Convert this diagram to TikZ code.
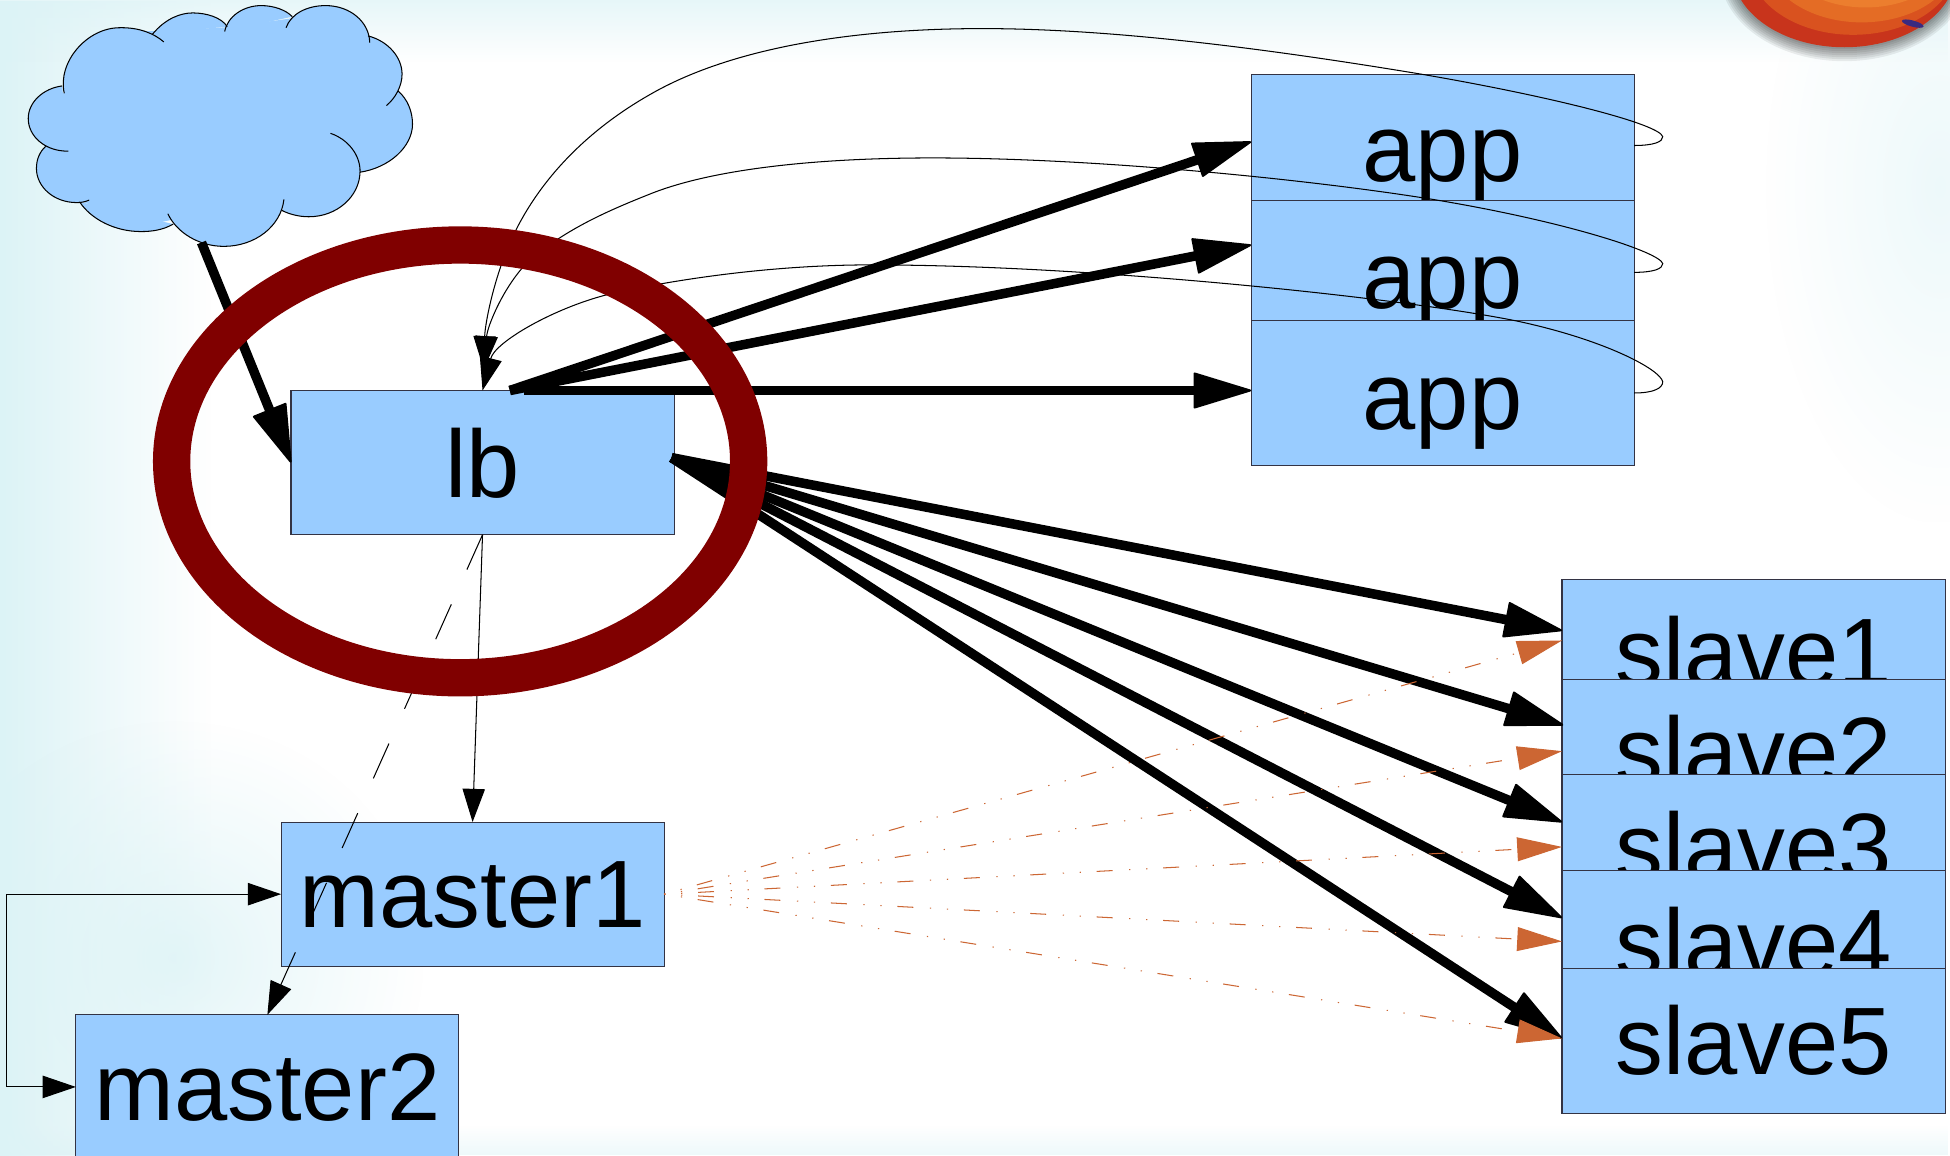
\documentclass[tikz,border=0pt]{standalone}
\usepackage{fontspec}
\setmainfont{Liberation Sans}
\usetikzlibrary{arrows.meta,fadings,calc}
\definecolor{boxblue}{HTML}{99CCFF}
\definecolor{boxline}{HTML}{333344}
\definecolor{ringred}{HTML}{800000}
\definecolor{orangeline}{HTML}{CC6633}
\definecolor{paleblue}{HTML}{DCF3F6}
\definecolor{ballA}{HTML}{C8341C}
\definecolor{ballB}{HTML}{D9521F}
\definecolor{ballC}{HTML}{E46C25}
\definecolor{ballD}{HTML}{EC7E2E}
\definecolor{ballE}{HTML}{EE8B3A}
\definecolor{ballspot}{HTML}{3A2A80}
\tikzfading[name=fadedown,top color=transparent!0,bottom color=transparent!100]
\tikzfading[name=fadeup,top color=transparent!100,bottom color=transparent!0]
\tikzfading[name=faderight,left color=transparent!0,right color=transparent!100]
\tikzfading[name=fadeball,inner color=transparent!0,outer color=transparent!100]
\tikzset{
  boxnode/.style={draw=boxline,fill=boxblue,line width=.5pt,inner sep=0pt,outer sep=0pt,
    anchor=north west,minimum width=184.8pt,font=\fontsize{46.2}{46.2}\selectfont,text=black},
  thinarrow/.style={draw=black,line width=.5pt,-{Triangle[length=16pt,width=10.8pt]}},
  thickarrow/.style={draw=black,line width=4.6pt,-{Triangle[length=29pt,width=17.5pt,round,line width=1pt]}},
  orangearrow/.style={draw=orangeline,line width=.5pt,
    dash pattern=on .6pt off 7.6pt on .6pt off 7.6pt on 7.7pt off 8pt,
    -{Triangle[length=21.6pt,width=11.5pt]}},
  dashedarrow/.style={thinarrow,dash pattern=on 18.4pt off 18.4pt},
  cloudline/.style={draw=black,line width=.5pt},
  ring/.style={draw=ringred,line width=18pt},
}
% name, x, y (top left, in units), height above baseline, depth below baseline, text
\newcommand{\boxat}[6]{\node[boxnode,text height=#4*.6pt,text depth=#5*.6pt] (#1) at (#2,#3) {#6};}
\newcommand{\lobes}{%
  {(51.7,75) .. controls (46,50) and (70,22) .. (96.7,22.3) .. controls (112,22) and (124,27) .. (131.7,33.7)},%
  {(122.7,27.4) .. controls (133,15) and (145,10.4) .. (155,10.4) .. controls (166,10.4) and (178,14) .. (182.7,21.4)},%
  {(180.7,25.3) .. controls (183,13) and (196,4.5) .. (210,4.5) .. controls (220,4.5) and (230,8) .. (235,13.4)},%
  {(230,22.3) .. controls (234,11) and (247,4.5) .. (261.7,4.5) .. controls (282,4.5) and (297,18) .. (297.3,34.3)},%
  {(296,28.9) .. controls (312,33) and (323.3,46) .. (323.3,59.6) .. controls (323.3,69) and (318,79) .. (310.7,84.9)},%
  {(320,73) .. controls (328,80) and (331.7,90) .. (331.7,99.8) .. controls (331.7,118) and (313,135) .. (289.3,138.5)},%
  {(265.7,107.2) .. controls (280,112) and (290,125) .. (289.5,138.5) .. controls (289,158) and (271,174.3) .. (248.3,174.3) .. controls (240,174.3) and (232,172) .. (226.7,169.2)},%
  {(228.3,160.3) .. controls (226,182) and (205,198.1) .. (180,198.1) .. controls (160,198.1) and (142,187) .. (135,171.9)},%
  {(139.3,180.2) .. controls (131,185) and (122,186.2) .. (113.3,186.2) .. controls (92,186.2) and (73,176) .. (64,162.3)},%
  {(71.7,160.9) .. controls (68,162.5) and (65,162.9) .. (61.7,162.9) .. controls (43,162.9) and (29.3,150) .. (29.3,135.5) .. controls (29.3,128) and (32,122) .. (36.7,117.7)},%
  {(55,121.5) .. controls (37,122) and (22.7,110) .. (22.7,95.3) .. controls (22.7,82) and (35,71) .. (50,69.1)}%
}
\begin{document}
\begin{tikzpicture}[x=.6pt,y=-.6pt]
\useasboundingbox (0,0) rectangle (1568,929);
\clip (0,0) rectangle (1568,929);
% background
\fill[white] (0,0) rectangle (1568,929);
\fill[paleblue,opacity=.5,path fading=fadeup] (0,905) rectangle (1568,929);
\fill[paleblue,path fading=faderight] (0,0) rectangle (170,929);
\fill[paleblue,opacity=.8,path fading=fadeball] (-60,580) rectangle (340,960);
\fill[paleblue,opacity=.7,path fading=fadedown] (0,0) rectangle (1568,50);
\fill[paleblue,opacity=.5,path fading=fadeball] (1420,-120) rectangle (1700,420);
% ball
\foreach \r in {1,...,7} \fill[black,opacity=.07] (1483,-22) ellipse [x radius=89+\r*1.6,y radius=60+\r*1.6];
\fill[ballA] (1483,-24) ellipse [x radius=90,y radius=62];
\fill[ballB] (1490,-30) ellipse [x radius=84,y radius=58];
\fill[ballC] (1497,-36) ellipse [x radius=78,y radius=54];
\fill[ballD] (1500,-44) ellipse [x radius=72,y radius=50];
\fill[ballE] (1500,-55) ellipse [x radius=64,y radius=46];
\fill[ballspot,rotate around={-15:(1538,19)}] (1538,19) ellipse [x radius=9,y radius=2.5];
% cloud
\fill[boxblue] (51,75) -- (96,25) -- (127,25) -- (181,22) -- (233,15) -- (262,10) -- (290,30) -- (297,32) -- (320,60) -- (318,77) -- (328,100) -- (289,138) -- (248,172) -- (227,167) -- (180,195) -- (137,177) -- (113,182) -- (64,161) -- (36,118) -- (24,95) -- cycle;
\foreach \lobe in \lobes { \fill[boxblue] \lobe -- cycle; }
\foreach \lobe in \lobes { \draw[cloudline] \lobe; }
\coordinate (cloudfoot) at (162,195);
% boxes
\boxat{lb}{234}{314}{86}{30}{lb}
\boxat{master1}{226}{661}{85}{31}{master1}
\boxat{master2}{61}{816}{85}{31}{master2}
\boxat{app1}{1006}{60}{86}{15}{app}
\boxat{app2}{1006}{161}{87}{10}{app}
\boxat{app3}{1006}{258}{87}{29}{app}
\boxat{slave1}{1256}{466}{85}{-5}{slave1}
\boxat{slave2}{1256}{546}{85}{-8}{slave2}
\boxat{slave3}{1256}{623}{85}{-8}{slave3}
\boxat{slave4}{1256}{700}{85}{-6}{slave4}
\boxat{slave5}{1256}{779}{85}{31}{slave5}
% ports on the boxes
\coordinate (lbtopA) at (410,314);
\coordinate (lbtopB) at (421,314);
\coordinate (lbtip) at (389,297);
\coordinate (lbout) at (540,368);
\coordinate (a1in) at (1006,114);
\coordinate (a2in) at (1006,197);
\coordinate (a3in) at (1006,314);
\coordinate (a1out) at (1314,117);
\coordinate (a2out) at (1314,219);
\coordinate (a3out) at (1314,316);
\coordinate (s1in) at (1256,507);
\coordinate (s2in) at (1257,583);
\coordinate (s3in) at (1256,661);
\coordinate (s4in) at (1256,738);
\coordinate (s5in) at (1256,835);
\coordinate (s1or) at (1256,515);
\coordinate (s2or) at (1256,604);
\coordinate (s3or) at (1256,681);
\coordinate (s4or) at (1256,757);
\coordinate (s5or) at (1256,835);
\coordinate (loopcorner) at (5,719);
% thick connectors
\draw[thickarrow] (cloudfoot) -- (lb.west);
\draw[thickarrow] (lbtopA) -- (a1in);
\draw[thickarrow] (lbtopA) -- (a2in);
\draw[thickarrow] (lbtopB) -- (a3in);
\foreach \t in {s1in,s2in,s3in,s4in,s5in} \draw[thickarrow] (lbout) -- (\t);
% thin connectors
\draw[thinarrow] (lb.south) -- (master1.north);
\draw[dashedarrow] (lb.south) -- (master2.north);
\draw[thinarrow] (loopcorner) -- (master1.west);
\draw[thinarrow] (loopcorner) |- (master2.west);
\foreach \t in {s1or,s2or,s3or,s4or,s5or} \draw[orangearrow] (master1.east) -- (\t);
% feedback curves
\draw[thinarrow] (a1out) .. controls (1330,117) and (1337,114) .. (1337,110)
  .. controls (1335,100) and (1250,78) .. (1142,59.5)
  .. controls (1030,41) and (900,23) .. (790,23)
  .. controls (680,23) and (585,40) .. (522.7,76)
  .. controls (470,106) and (435,145) .. (415,184.7)
  .. controls (398,218) and (390,260) .. (lbtip);
\draw[thinarrow] (a2out) .. controls (1330,219) and (1337,216) .. (1337,212)
  .. controls (1335,203) and (1260,178) .. (1150,160)
  .. controls (1050,144) and (880,127) .. (750,127)
  .. controls (650,127) and (570,137) .. (522.7,156)
  .. controls (490,169) and (455,184) .. (425,210)
  .. controls (405,230) and (392,262) .. (lbtip);
\draw[thinarrow] (a3out) .. controls (1330,316) and (1337,312) .. (1337,307)
  .. controls (1335,297) and (1290,273) .. (1219,258)
  .. controls (1130,240) and (880,213) .. (700,213)
  .. controls (620,213) and (540,225) .. (488,237)
  .. controls (445,248) and (398,275) .. (lb.north);
% ring
\draw[ring] (370,371) ellipse [x radius=232,y radius=174];
\end{tikzpicture}
\end{document}
